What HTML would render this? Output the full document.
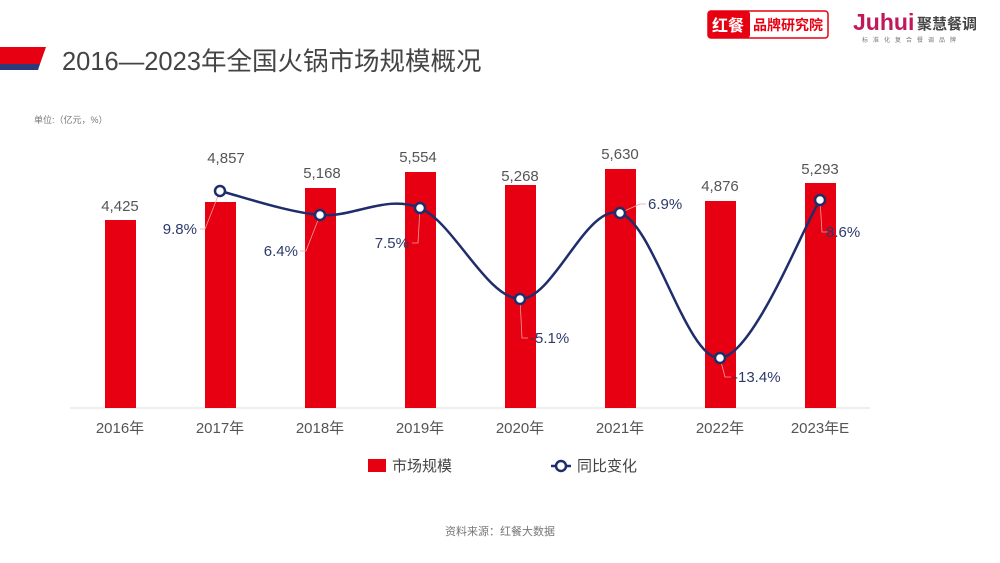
<!DOCTYPE html>
<html><head><meta charset="utf-8"><style>
html,body{margin:0;padding:0;background:#fff;}
svg{display:block;font-family:"Liberation Sans","Noto Sans CJK SC",sans-serif;}
</style></head><body>
<svg width="1000" height="563" viewBox="0 0 1000 563">
<rect width="1000" height="563" fill="#fff"/>
<polygon points="0,47 46,47 40,64 0,64" fill="#e60012"/>
<polygon points="0,64 40,64 38,70 0,70" fill="#2b3a7a"/>
<text x="62" y="70" font-size="25.5" fill="#444">2016—2023年全国火锅市场规模概况</text>
<text x="34" y="123" font-size="9" fill="#777">单位:（亿元，%）</text>
<rect x="708" y="11" width="120" height="27" rx="3" fill="#fff" stroke="#e60012" stroke-width="1.5"/>
<rect x="708" y="11" width="42" height="27" rx="3" fill="#e60012"/>
<text x="712" y="31" font-size="16" fill="#fff" font-weight="bold">红餐</text>
<text x="753" y="30" font-size="14" fill="#e60012" font-weight="bold">品牌研究院</text>
<text x="853" y="30" font-size="23" fill="#c0185a" font-weight="bold">Juhui</text>
<text x="917" y="29" font-size="15" fill="#444" font-weight="bold">聚慧餐调</text>
<text x="862" y="42" font-size="6" fill="#777" letter-spacing="5">标准化复合餐调品牌</text>
<line x1="70" y1="408" x2="870" y2="408" stroke="#ddd" stroke-width="1"/>
<g fill="#e60012">
<rect x="105" y="220" width="31" height="188"/>
<rect x="205" y="202" width="31" height="206"/>
<rect x="305" y="188" width="31" height="220"/>
<rect x="405" y="172" width="31" height="236"/>
<rect x="505" y="185" width="31" height="223"/>
<rect x="605" y="169" width="31" height="239"/>
<rect x="705" y="201" width="31" height="207"/>
<rect x="805" y="183" width="31" height="225"/>
</g>
<g font-size="15" fill="#555" text-anchor="middle">
<text x="120" y="211">4,425</text>
<text x="226" y="163">4,857</text>
<text x="322" y="178">5,168</text>
<text x="418" y="162">5,554</text>
<text x="520" y="181">5,268</text>
<text x="620" y="159">5,630</text>
<text x="720" y="191">4,876</text>
<text x="820" y="174">5,293</text>
</g>
<g font-size="15" fill="#555" text-anchor="middle">
<text x="120" y="433">2016年</text><text x="220" y="433">2017年</text>
<text x="320" y="433">2018年</text><text x="420" y="433">2019年</text>
<text x="520" y="433">2020年</text><text x="620" y="433">2021年</text>
<text x="720" y="433">2022年</text><text x="820" y="433">2023年E</text>
</g>
<g stroke="#f2a0a0" stroke-width="0.8" fill="none">
<polyline points="220,191 205,229 200,229"/>
<polyline points="320,215 306,251 300,251"/>
<polyline points="420,208 418,243 412,243"/>
<polyline points="520,299 522,338 528,338"/>
<polyline points="620,213 640,204 646,204"/>
<polyline points="720,358 725,377 731,377"/>
<polyline points="820,200 822,232 828,232"/>
</g>
<g font-size="15" fill="#2b3a6b">
<text x="197" y="234" text-anchor="end">9.8%</text>
<text x="298" y="256" text-anchor="end">6.4%</text>
<text x="409" y="248" text-anchor="end">7.5%</text>
<text x="530" y="343">-5.1%</text>
<text x="648" y="209">6.9%</text>
<text x="733" y="382">-13.4%</text>
<text x="826" y="237">8.6%</text>
</g>
<path d="M220,191 C236.7,195 286.7,212.2 320,215 C353.3,217.8 386.7,194 420,208 C453.3,222 486.7,298.2 520,299 C553.3,299.8 586.7,203.2 620,213 C653.3,222.8 686.7,360.2 720,358 C753.3,355.8 803.3,226.3 820,200" fill="none" stroke="#1f2d6b" stroke-width="2.5"/>
<g fill="#fff" stroke="#1f2d6b" stroke-width="2.5">
<circle cx="220" cy="191" r="5"/><circle cx="320" cy="215" r="5"/>
<circle cx="420" cy="208" r="5"/><circle cx="520" cy="299" r="5"/>
<circle cx="620" cy="213" r="5"/><circle cx="720" cy="358" r="5"/>
<circle cx="820" cy="200" r="5"/>
</g>
<rect x="368" y="459" width="18" height="13" fill="#e60012"/>
<text x="392" y="471" font-size="15" fill="#444">市场规模</text>
<line x1="551" y1="466" x2="571" y2="466" stroke="#1f2d6b" stroke-width="2.5"/>
<circle cx="561" cy="466" r="5" fill="#fff" stroke="#1f2d6b" stroke-width="2.5"/>
<text x="577" y="471" font-size="15" fill="#444">同比变化</text>
<text x="500" y="535" font-size="11" fill="#777" text-anchor="middle">资料来源：红餐大数据</text>
</svg>
</body></html>
